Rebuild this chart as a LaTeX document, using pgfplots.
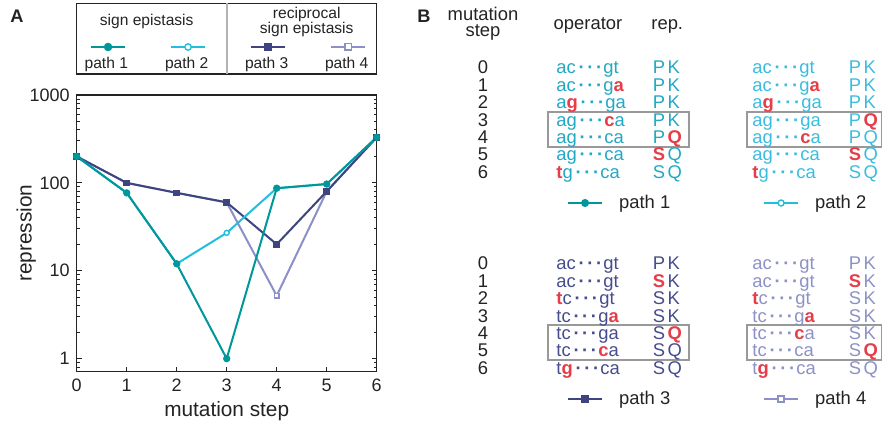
\documentclass[border=0pt]{standalone}
\usepackage{fontspec}
\setmainfont{Liberation Sans}
\usepackage{pgfplots}
\pgfplotsset{compat=1.18}

% line colours of the four paths
\definecolor{cA}{RGB}{0,151,155}
\definecolor{cB}{RGB}{34,190,222}
\definecolor{cC}{RGB}{62,68,128}
\definecolor{cD}{RGB}{139,144,198}
% sequence text colours
\definecolor{tA}{RGB}{33,168,196}
\definecolor{tB}{RGB}{58,188,224}
\definecolor{tC}{RGB}{70,76,140}
\definecolor{tD}{RGB}{140,145,198}
\definecolor{mred}{RGB}{230,62,72}
\definecolor{ink}{RGB}{35,35,35}

\pgfplotsset{
  path one/.style={cA, line width=1pt, mark=*, mark size=1.3pt, mark options={solid, fill=cA, draw=cA}},
  path two/.style={cB, line width=1pt, mark=*, mark size=1.25pt, mark options={solid, fill=white, draw=cB, line width=0.7pt}},
  path three/.style={cC, line width=1pt, mark=square*, mark size=1.15pt, mark options={solid, fill=cC, draw=cC}},
  path four/.style={cD, line width=1pt, mark=square*, mark size=1.15pt, mark options={solid, fill=white, draw=cD, line width=0.7pt}},
}

% a lone legend sample (image plus optional text) at a given point
\newcommand{\legsample}[5]{%
\begin{axis}[hide axis, scale only axis, width=2pt, height=2pt,
  xmin=0, xmax=1, ymin=0, ymax=1, at={(#1,#2)}, anchor=center,
  legend style={at={(0.5,0.5)}, anchor=west, draw=none, fill=none,
    inner sep=0pt, outer sep=0pt, column sep=8pt,
    font=\fontsize{9.2}{11}\selectfont, text=ink,
    nodes={inner sep=0pt, outer sep=0pt}},
  legend image post style={mark size=#5}]
\addlegendimage{#3}
\addlegendentry{#4}
\end{axis}}

\newcommand{\rr}[1]{\textcolor{mred}{\bfseries #1}}
\newcommand{\dd}{\kern1.4pt{\bfseries\textperiodcentered\kern1.3pt\textperiodcentered\kern1.3pt\textperiodcentered}\kern0.6pt}
\newcommand{\rp}[2]{#1\kern1.2pt#2}
% one row of a table: x of operator, x of repressor, baseline, operator, repressor
\newcommand{\row}[5]{%
  \node[anchor=base west] at (#1,#3) {#4};
  \node[anchor=base west] at (#2,#3) {#5};}

\begin{document}
\begin{tikzpicture}
\path[use as bounding box] (0pt,0pt) rectangle (441pt,-210.5pt);

% ---------------- panel A: repression along the paths ----------------
\begin{axis}[
  at={(38.35pt,-185.85pt)}, anchor=south west,
  scale only axis, width=150pt, height=138.35pt,
  xmin=0, xmax=6, ymode=log, ymin=0.71, ymax=1000,
  xtick={0,1,2,3,4,5,6}, ytick={1,10,100,1000},
  yticklabels={1,10,100,1000},
  minor ytick={0.8,0.9,2,3,4,5,6,7,8,9,20,30,40,50,60,70,80,90,200,300,400,500,600,700,800,900},
  xtick pos=left, ytick pos=both,
  tick align=inside,
  major tick length=2.5pt, minor tick length=1.4pt,
  axis line style={line width=0.6pt, ink},
  every tick/.style={ink, line width=0.5pt},
  tick label style={font=\fontsize{9}{10}\selectfont, text=ink},
  /pgf/number format/assume math mode=true,
  xlabel={mutation step}, ylabel={repression},
  label style={font=\fontsize{10.4}{12}\selectfont, text=ink},
  xlabel style={yshift=2pt},
  ylabel style={yshift=-10pt},
  clip=false,
]
\addplot[path four] coordinates {(0,200) (1,100) (2,77) (3,60) (4,5.2) (5,80) (6,330)};
\addplot[path three] coordinates {(0,200) (1,100) (2,77) (3,60) (4,20) (5,80) (6,330)};
\addplot[path two] coordinates {(0,200) (1,77) (2,12) (3,27) (4,87) (5,97) (6,330)};
\addplot[path one] coordinates {(0,200) (1,77) (2,12) (3,1) (4,87) (5,97) (6,330)};
\end{axis}

% legend samples of panel A
\legsample{45pt}{-23.5pt}{path one}{}{1.6pt}
\legsample{85pt}{-23.5pt}{path two}{}{1.6pt}
\legsample{125pt}{-23.5pt}{path three}{}{1.6pt}
\legsample{165pt}{-23.5pt}{path four}{}{1.6pt}

% legend samples of panel B
\legsample{283.5pt}{-101.5pt}{path one}{path 1}{1.5pt}
\legsample{381.5pt}{-101.5pt}{path two}{path 2}{1.5pt}
\legsample{283.5pt}{-199.5pt}{path three}{path 3}{1.5pt}
\legsample{381.5pt}{-199.5pt}{path four}{path 4}{1.5pt}

\begin{scope}[x=0.5pt, y=-0.5pt]
% legend frame of panel A
\draw[ink, line width=0.6pt] (76.7,3.3) rectangle (376.7,74);
\draw[black!30, line width=0.8pt] (227,3.3) -- (227,74);
\begin{scope}[every node/.append style={font=\fontsize{7.8}{9}\selectfont, text=ink, inner sep=0pt, anchor=base}]
\node at (146.7,26) {sign epistasis};
\node at (306.7,18.3) {reciprocal};
\node at (306.7,33.7) {sign epistasis};
\node at (106.3,68.3) {path 1};
\node at (186.7,68.3) {path 2};
\node at (266.7,68.3) {path 3};
\node at (346.7,68.3) {path 4};
\end{scope}

% panel letters
\node[anchor=base west, inner sep=0pt, font=\fontsize{9.1}{10}\selectfont\bfseries, text=ink] at (10,23) {A};
\node[anchor=base west, inner sep=0pt, font=\fontsize{9.1}{10}\selectfont\bfseries, text=ink] at (417,23) {B};

% ---------------- panel B: sequences ----------------
\begin{scope}[every node/.append style={font=\fontsize{9.2}{11}\selectfont, inner sep=0pt}]
\node[anchor=base, text=ink] at (483,21) {mutation};
\node[anchor=base, text=ink] at (483,37) {step};
\node[anchor=base, text=ink] at (588,29.3) {operator};
\node[anchor=base west, text=ink] at (651,29.3) {rep.};

\foreach \i/\yb in {0/74,1/91.4,2/108.8,3/126.2,4/143.6,5/161,6/178.4}
  \node[anchor=base, text=ink] at (483,\yb) {\i};
\foreach \i/\yb in {0/270,1/287.4,2/304.8,3/322.2,4/339.6,5/357,6/374.4}
  \node[anchor=base, text=ink] at (483,\yb) {\i};

\draw[black!40, line width=0.6pt] (548,112) rectangle (689,147);
\draw[black!40, line width=0.6pt] (747,112) rectangle (881.5,147);
\draw[black!40, line width=0.6pt] (548,325) rectangle (689,360);
\draw[black!40, line width=0.6pt] (747,325) rectangle (881.5,360);

% path 1
\begin{scope}[every node/.append style={text=tA}]
\row{556}{652.5}{74}{ac\dd gt}{\rp PK}
\row{556}{652.5}{91.4}{ac\dd g\rr{a}}{\rp PK}
\row{556}{652.5}{108.8}{a\rr{g}\dd ga}{\rp PK}
\row{556}{652.5}{126.2}{ag\dd\rr{c}a}{\rp PK}
\row{556}{652.5}{143.6}{ag\dd ca}{\rp P{\rr{Q}}}
\row{556}{652.5}{161}{ag\dd ca}{\rp{\rr{S}}Q}
\row{556}{652.5}{178.4}{\rr{t}g\dd ca}{\rp SQ}
\end{scope}
% path 2
\begin{scope}[every node/.append style={text=tB}]
\row{752}{848.5}{74}{ac\dd gt}{\rp PK}
\row{752}{848.5}{91.4}{ac\dd g\rr{a}}{\rp PK}
\row{752}{848.5}{108.8}{a\rr{g}\dd ga}{\rp PK}
\row{752}{848.5}{126.2}{ag\dd ga}{\rp P{\rr{Q}}}
\row{752}{848.5}{143.6}{ag\dd\rr{c}a}{\rp PQ}
\row{752}{848.5}{161}{ag\dd ca}{\rp{\rr{S}}Q}
\row{752}{848.5}{178.4}{\rr{t}g\dd ca}{\rp SQ}
\end{scope}
% path 3
\begin{scope}[every node/.append style={text=tC}]
\row{556}{652.5}{270}{ac\dd gt}{\rp PK}
\row{556}{652.5}{287.4}{ac\dd gt}{\rp{\rr{S}}K}
\row{556}{652.5}{304.8}{\rr{t}c\dd gt}{\rp SK}
\row{556}{652.5}{322.2}{tc\dd g\rr{a}}{\rp SK}
\row{556}{652.5}{339.6}{tc\dd ga}{\rp S{\rr{Q}}}
\row{556}{652.5}{357}{tc\dd\rr{c}a}{\rp SQ}
\row{556}{652.5}{374.4}{t\rr{g}\dd ca}{\rp SQ}
\end{scope}
% path 4
\begin{scope}[every node/.append style={text=tD}]
\row{752}{848.5}{270}{ac\dd gt}{\rp PK}
\row{752}{848.5}{287.4}{ac\dd gt}{\rp{\rr{S}}K}
\row{752}{848.5}{304.8}{\rr{t}c\dd gt}{\rp SK}
\row{752}{848.5}{322.2}{tc\dd g\rr{a}}{\rp SK}
\row{752}{848.5}{339.6}{tc\dd\rr{c}a}{\rp SK}
\row{752}{848.5}{357}{tc\dd ca}{\rp S{\rr{Q}}}
\row{752}{848.5}{374.4}{t\rr{g}\dd ca}{\rp SQ}
\end{scope}
\end{scope}
\end{scope}
\end{tikzpicture}
\end{document}
